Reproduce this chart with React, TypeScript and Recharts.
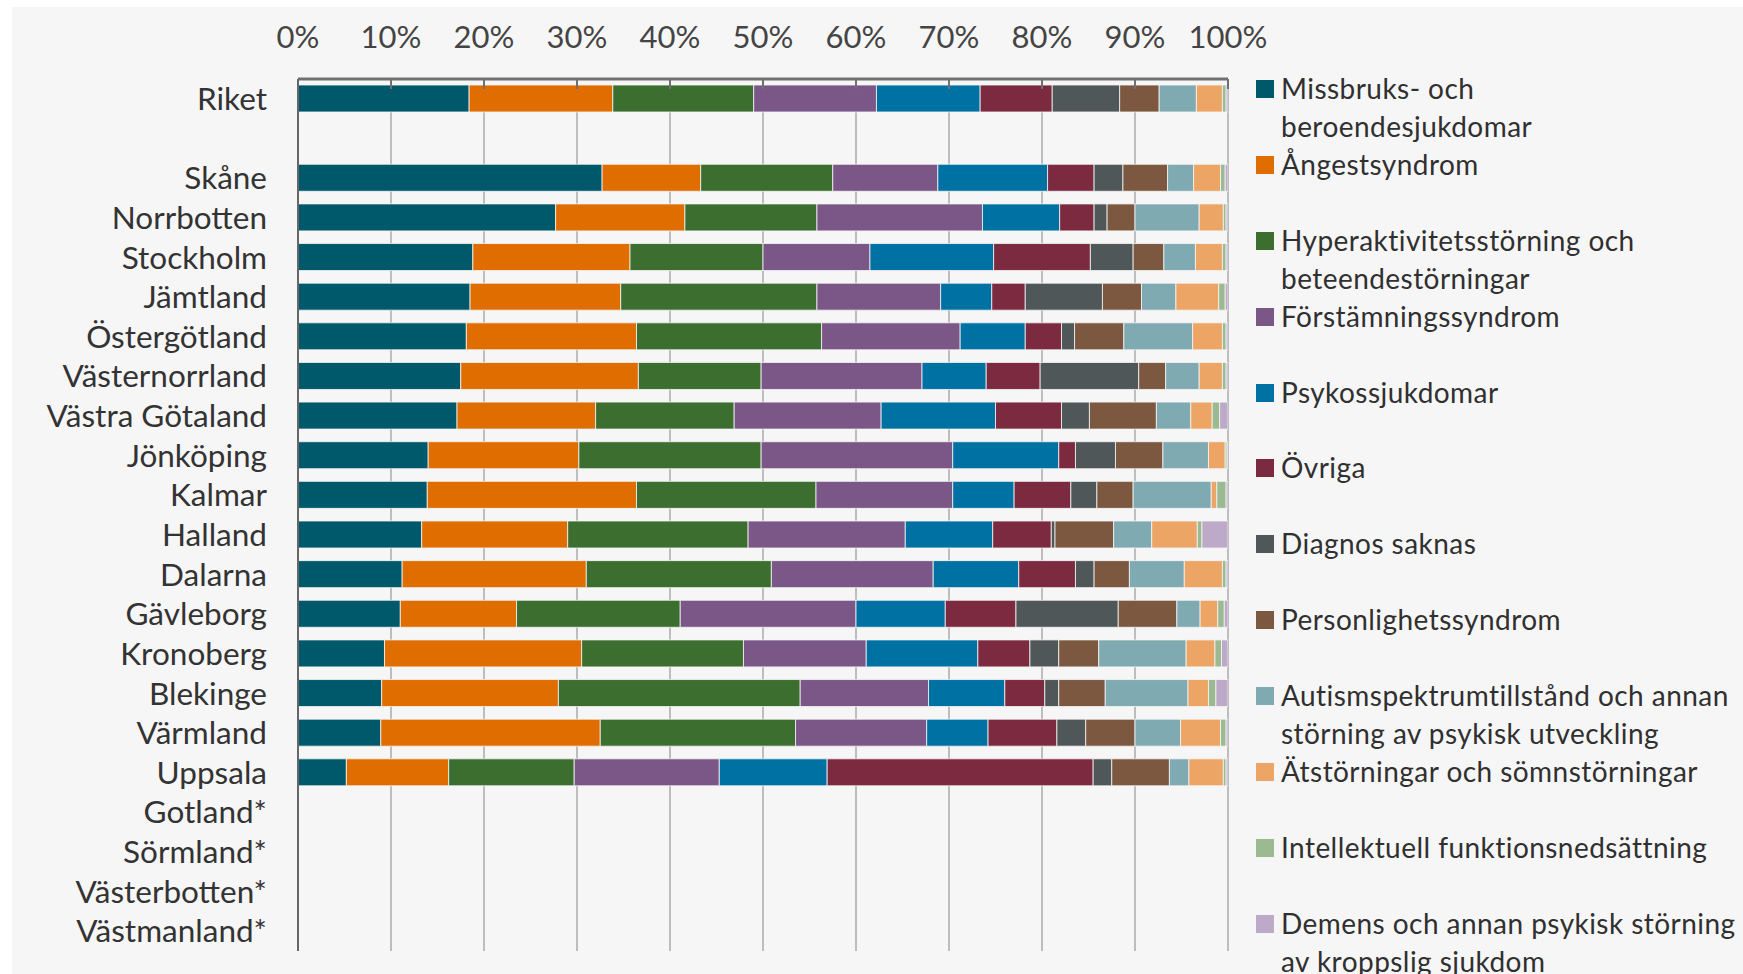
import React from 'react';
import { BarChart, Bar, XAxis, YAxis, CartesianGrid, Legend } from 'recharts';

// regions, top to bottom ('' is the empty row under Riket)
const regions = [
  'Riket', '', 'Skåne', 'Norrbotten', 'Stockholm', 'Jämtland', 'Östergötland',
  'Västernorrland', 'Västra Götaland', 'Jönköping', 'Kalmar', 'Halland', 'Dalarna',
  'Gävleborg', 'Kronoberg', 'Blekinge', 'Värmland', 'Uppsala',
  'Gotland*', 'Sörmland*', 'Västerbotten*', 'Västmanland*'
];

const _ = null;
const missbruk = [18.4, _, 32.7, 27.7, 18.8, 18.5, 18.1, 17.5, 17.1, 14.0, 13.9, 13.3, 11.2, 11.0, 9.3, 9.0, 8.9, 5.2, _, _, _, _];
const angest = [15.45, _, 10.6, 13.9, 16.9, 16.2, 18.3, 19.1, 14.9, 16.2, 22.5, 15.7, 19.8, 12.5, 21.2, 19.0, 23.6, 11.0, _, _, _, _];
const hyperaktivitet = [15.15, _, 14.2, 14.2, 14.3, 21.1, 19.9, 13.2, 14.9, 19.6, 19.3, 19.4, 19.9, 17.6, 17.4, 26.0, 21.0, 13.5, _, _, _, _];
const forstamning = [13.2, _, 11.3, 17.8, 11.5, 13.3, 14.9, 17.3, 15.8, 20.6, 14.7, 16.9, 17.4, 18.9, 13.2, 13.8, 14.1, 15.6, _, _, _, _];
const psykos = [11.15, _, 11.8, 8.3, 13.3, 5.5, 7.0, 6.9, 12.3, 11.4, 6.6, 9.4, 9.2, 9.6, 12.0, 8.2, 6.6, 11.6, _, _, _, _];
const ovriga = [7.75, _, 5.0, 3.7, 10.4, 3.6, 3.9, 5.8, 7.1, 1.8, 6.1, 6.3, 6.1, 7.6, 5.6, 4.3, 7.4, 28.6, _, _, _, _];
const diagnosSaknas = [7.25, _, 3.1, 1.4, 4.6, 8.3, 1.4, 10.6, 3.0, 4.3, 2.8, 0.4, 2.0, 11.0, 3.1, 1.5, 3.1, 2.0, _, _, _, _];
const personlighet = [4.25, _, 4.8, 3.0, 3.3, 4.2, 5.3, 2.9, 7.2, 5.1, 3.9, 6.3, 3.8, 6.3, 4.3, 5.0, 5.3, 6.2, _, _, _, _];
const autism = [4.0, _, 2.8, 6.9, 3.4, 3.7, 7.4, 3.6, 3.7, 4.9, 8.4, 4.1, 5.9, 2.5, 9.4, 8.9, 4.9, 2.1, _, _, _, _];
const atstorning = [2.8, _, 2.9, 2.6, 2.9, 4.6, 3.2, 2.5, 2.3, 1.8, 0.6, 4.9, 4.1, 1.9, 3.1, 2.2, 4.3, 3.7, _, _, _, _];
const intellektuell = [0.4, _, 0.5, 0.3, 0.4, 0.7, 0.4, 0.4, 0.8, 0.2, 1.0, 0.5, 0.4, 0.7, 0.7, 0.8, 0.6, 0.3, _, _, _, _];
const demens = [0.2, _, 0.3, 0.2, 0.2, 0.3, 0.2, 0.2, 0.9, 0.1, 0.2, 2.8, 0.2, 0.4, 0.7, 1.3, 0.2, 0.2, _, _, _, _];

const seriesValues = [
  missbruk, angest, hyperaktivitet, forstamning, psykos, ovriga,
  diagnosSaknas, personlighet, autism, atstorning, intellektuell, demens
];

const seriesNames = [
  'Missbruks- och\nberoendesjukdomar',
  'Ångestsyndrom',
  'Hyperaktivitetsstörning och\nbeteendestörningar',
  'Förstämningssyndrom',
  'Psykossjukdomar',
  'Övriga',
  'Diagnos saknas',
  'Personlighetssyndrom',
  'Autismspektrumtillstånd och annan\nstörning av psykisk utveckling',
  'Ätstörningar och sömnstörningar',
  'Intellektuell funktionsnedsättning',
  'Demens och annan psykisk störning\nav kroppslig sjukdom'
];

const COLORS = [
  '#00596a', '#e06d00', '#3c6e30', '#7b5788', '#0071a3', '#7c2a40',
  '#4f5759', '#7c5841', '#80aab2', '#eca565', '#9bba91', '#bcaac8'
];

const xTicks = [0, 10, 20, 30, 40, 50, 60, 70, 80, 90, 100];

const FONT = 'Lato, "Open Sans", sans-serif';

const data = regions.map((region, i) => {
  const row: Record<string, any> = { region };
  seriesValues.forEach((vals, s) => {
    row[`s${s}`] = vals[i];
  });
  return row;
});

const LegendContent = () => (
  <div style={{ fontFamily: FONT, fontSize: 28, letterSpacing: 0.45, color: '#303030' }}>
    {seriesNames.map((name, i) => (
      <div key={i} style={{ position: 'relative', height: 75.9, paddingLeft: 25 }}>
        <span
          style={{
            position: 'absolute',
            left: 0,
            top: 10,
            width: 18,
            height: 18,
            background: COLORS[i]
          }}
        />
        <div style={{ whiteSpace: 'pre', lineHeight: '37.9px' }}>{name}</div>
      </div>
    ))}
  </div>
);

const App = () => {
  return (
    <div style={{ position: 'absolute', left: 0, top: 0, width: 1743, height: 974, background: '#ffffff', overflow: 'hidden' }}>
      <div style={{ position: 'absolute', left: 12, top: 7, right: 0, bottom: 0, background: '#f6f6f6' }} />
      <div style={{ position: 'absolute', left: 0, top: 0 }}>
        <BarChart
          width={1743}
          height={974}
          data={data}
          layout="vertical"
          margin={{ top: 0, right: 515, bottom: 23, left: 0 }}
          barSize={27}
          style={{ fontFamily: FONT }}
        >
          <CartesianGrid horizontal={false} stroke="#bdbdbd" strokeWidth={2} />
          <XAxis
            type="number"
            orientation="top"
            domain={[0, 100]}
            ticks={xTicks}
            allowDataOverflow
            height={79}
            tickFormatter={(v) => `${v}%`}
            axisLine={{ stroke: '#707070', strokeWidth: 3 }}
            tickLine={{ stroke: '#707070', strokeWidth: 2 }}
            tickSize={-10}
            tickMargin={41}
            tick={{ fontSize: 31, fill: '#444444', fontFamily: FONT }}
          />
          <YAxis
            type="category"
            dataKey="region"
            width={298}
            interval={0}
            tickSize={0}
            tickMargin={31}
            tickLine={false}
            axisLine={{ stroke: '#666666', strokeWidth: 2 }}
            tick={{ fontSize: 31.5, fill: '#333333', fontFamily: FONT }}
          />
          {seriesValues.map((_v, s) => (
            <Bar
              key={s}
              dataKey={`s${s}`}
              name={seriesNames[s]}
              stackId="a"
              fill={COLORS[s]}
              stroke="#f6f6f6"
              strokeWidth={0.8}
              isAnimationActive={false}
            />
          ))}
          <Legend
            layout="vertical"
            align="center"
            verticalAlign="middle"
            content={<LegendContent />}
            wrapperStyle={{ left: 1256, top: 70, width: 487, height: 'auto' }}
          />
        </BarChart>
      </div>
    </div>
  );
};

export default App;
